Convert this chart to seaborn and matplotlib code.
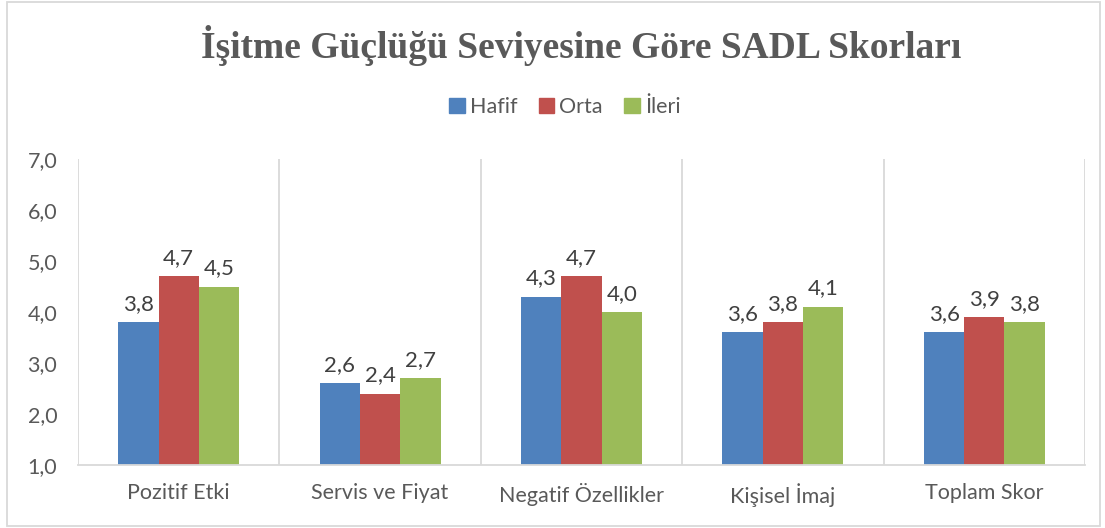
import pandas as pd
import matplotlib
matplotlib.use("Agg")
import matplotlib.pyplot as plt
import seaborn as sns
from matplotlib.patches import Rectangle
from matplotlib.ticker import FixedLocator, FuncFormatter

# veriler
kategoriler = ["Pozitif Etki", "Servis ve Fiyat", "Negatif Özellikler", "Kişisel İmaj", "Toplam Skor"]
seviyeler = ["Hafif", "Orta", "İleri"]
hafif = [3.8, 2.6, 4.3, 3.6, 3.6]
orta = [4.7, 2.4, 4.7, 3.8, 3.9]
ileri = [4.5, 2.7, 4.0, 4.1, 3.8]
renkler = ["#4F81BD", "#C0504D", "#9BBB59"]

df = pd.DataFrame({
    "Kategori": kategoriler * 3,
    "Seviye": ["Hafif"] * 5 + ["Orta"] * 5 + ["İleri"] * 5,
    "Skor": hafif + orta + ileri,
})

sns.set_style("white")
plt.rcParams["font.family"] = ["Lato", "DejaVu Sans"]
gri = "#595959"
cizgi = "#D9D9D9"

fig = plt.figure(figsize=(11.05, 5.28), dpi=100)
ax = fig.add_axes([78 / 1105, 1 - 465 / 528, (1085 - 78) / 1105, (465 - 159) / 528])

sns.barplot(data=df, x="Kategori", y="Skor", hue="Seviye", order=kategoriler,
            hue_order=seviyeler, palette=renkler, width=0.6, linewidth=0,
            saturation=1, ax=ax, legend=False)

ax.set_ylim(1, 7)
ax.set_xlim(-0.5, len(kategoriler) - 0.5)
ax.set_yticks([1, 2, 3, 4, 5, 6, 7])
ax.yaxis.set_major_formatter(FuncFormatter(lambda v, p: f"{v:.1f}".replace(".", ",")))
ax.xaxis.set_minor_locator(FixedLocator([i - 0.5 for i in range(len(kategoriler) + 1)]))
ax.grid(axis="x", which="minor", color=cizgi, linewidth=1.3)
ax.grid(axis="y", which="major", visible=False)
ax.set_axisbelow(True)
ax.set_xlabel("")
ax.set_ylabel("")
for s in ["top", "right", "left"]:
    ax.spines[s].set_visible(False)
ax.spines["bottom"].set_color(cizgi)
ax.spines["bottom"].set_linewidth(1.3)
ax.tick_params(axis="both", which="both", length=0, labelsize=15.5, colors=gri)
ax.tick_params(axis="y", pad=15)
ax.tick_params(axis="x", pad=13)

for c in ax.containers:
    ax.bar_label(c, fmt=lambda v: f"{v:.1f}".replace(".", ","), padding=6,
                 fontsize=16, color="#404040")

fig.text(581 / 1105, 1 - 45 / 528, "İşitme Güçlüğü Seviyesine Göre SADL Skorları",
         ha="center", va="center", fontsize=27, fontweight="bold",
         family="Liberation Serif", color=gri)

handles = [Rectangle((0, 0), 1, 1, color=r) for r in renkler]
fig.legend(handles, seviyeler, loc="center", bbox_to_anchor=(565 / 1105, 1 - 107 / 528),
           ncol=3, frameon=False, handlelength=0.7, handleheight=0.7,
           handletextpad=0.25, columnspacing=1.0, fontsize=15.5, labelcolor=gri)

fig.add_artist(Rectangle((7 / 1105, 2 / 528), 1093 / 1105, 524 / 528,
                         transform=fig.transFigure, fill=False,
                         edgecolor=cizgi, linewidth=1.3))

fig.savefig("out.png", dpi=100)
